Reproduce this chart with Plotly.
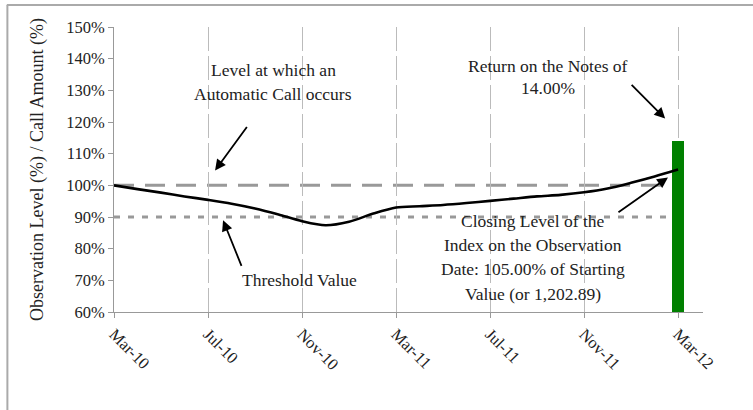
import plotly.graph_objects as go

# ---- data ----
month_index = list(range(25))  # months since Mar-10
observation_level = [100.0, 98.8, 97.7, 96.5, 95.4, 94.2, 92.7, 90.8, 88.7, 87.4,
                     88.5, 91.0, 93.0, 93.4, 93.8, 94.4, 95.1, 95.8, 96.5, 97.0,
                     97.8, 99.0, 100.8, 102.8, 105.0]
return_x = [24]
return_value = [114.0]
call_level = 100
threshold_level = 90
x_tick_vals = [0, 4, 8, 12, 16, 20, 24]
x_tick_text = ["Mar-10", "Jul-10", "Nov-10", "Mar-11", "Jul-11", "Nov-11", "Mar-12"]
y_tick_vals = [60, 70, 80, 90, 100, 110, 120, 130, 140, 150]
y_tick_text = [f"{v}%" for v in y_tick_vals]

FONT = "Liberation Serif"
TXT = "#222222"
AX = "#999999"

fig = go.Figure()

fig.add_trace(go.Bar(x=return_x, y=return_value, width=0.52,
                     marker=dict(color="#008000", line=dict(width=0)),
                     hoverinfo="skip", showlegend=False))
fig.add_trace(go.Scatter(x=month_index, y=observation_level, mode="lines",
                         line=dict(color="black", width=2.6, shape="spline", smoothing=0.8),
                         hoverinfo="skip", showlegend=False))

# reference lines
fig.add_shape(type="line", xref="x", yref="y", x0=month_index[0], x1=return_x[0] - 0.27,
              y0=call_level, y1=call_level, layer="below",
              line=dict(color="#999999", width=3, dash="20px,11px"))
fig.add_shape(type="line", xref="x", yref="y", x0=month_index[0], x1=return_x[0] - 0.27,
              y0=threshold_level, y1=threshold_level, layer="below",
              line=dict(color="#999999", width=3, dash="6px,8px"))

# frame lines (top and left)
fig.add_shape(type="line", xref="paper", yref="paper", x0=-0.182, x1=1.09, y0=1.077, y1=1.077,
              line=dict(color="#aaaaaa", width=2))
fig.add_shape(type="line", xref="paper", yref="paper", x0=-0.181, x1=-0.181, y0=1.077, y1=-0.36,
              line=dict(color="#aaaaaa", width=2))

tf = dict(family=FONT, size=17.5, color=TXT)

def label(x, y, text):
    fig.add_annotation(x=x, y=y, xref="x", yref="y", text=text, showarrow=False,
                       font=tf, xanchor="center", yanchor="middle")

def arrow(x, y, ax, ay):
    fig.add_annotation(x=x, y=y, ax=ax, ay=ay, xref="x", yref="y", axref="x", ayref="y",
                       text="", showarrow=True, arrowhead=2, arrowsize=1.2,
                       arrowwidth=1.8, arrowcolor="black")

label(6.77, 136.3, "Level at which an")
label(6.77, 128.8, "Automatic Call occurs")
arrow(4.30, 104.7, 5.70, 118.9)

label(18.47, 137.8, "Return on the Notes of")
label(18.47, 130.6, "14.00%")
arrow(23.45, 121.1, 21.96, 132.2)

label(7.91, 70.0, "Threshold Value")
arrow(4.64, 89.0, 5.45, 74.1)

label(17.81, 88.8, "Closing Level of the")
label(17.81, 81.3, "Index on the Observation")
label(17.81, 73.7, "Date: 105.00% of Starting")
label(17.81, 65.8, "Value (or 1,202.89)")
arrow(23.57, 102.5, 21.40, 91.2)

fig.update_layout(
    width=753, height=410,
    margin=dict(l=114, r=50, t=27, b=98),
    paper_bgcolor="white", plot_bgcolor="white",
    font=dict(family=FONT, color=TXT, size=16.5),
    bargap=0,
    xaxis=dict(range=[0, 25.06], tickmode="array", tickvals=x_tick_vals, ticktext=x_tick_text,
               tickangle=45, showgrid=True, gridcolor="#bbbbbb", gridwidth=1, griddash="24px,5px",
               showline=True, linecolor=AX, linewidth=1, ticks="outside", ticklen=5, tickcolor=AX,
               tickfont=dict(family=FONT, size=16.5, color=TXT), zeroline=False, fixedrange=True),
    yaxis=dict(range=[60, 150], tickmode="array", tickvals=y_tick_vals, ticktext=y_tick_text,
               showgrid=False, showline=True, linecolor=AX, linewidth=1, ticks="outside",
               ticklen=5, tickcolor=AX, zeroline=False,
               tickfont=dict(family=FONT, size=16.5, color=TXT),
               title=dict(text="Observation Level (%) / Call Amount (%)",
                          font=dict(family=FONT, size=18, color=TXT), standoff=17),
               fixedrange=True),
)

fig.write_html("out.html", config={"displayModeBar": False},
               post_script="document.body.style.margin='0';")
